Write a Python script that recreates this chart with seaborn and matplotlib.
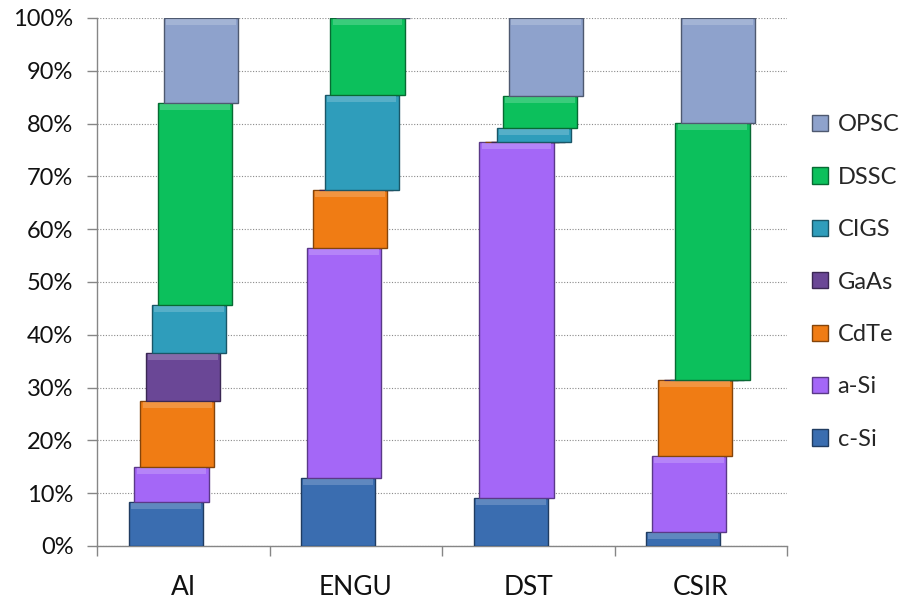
import matplotlib
matplotlib.use("Agg")
import matplotlib.pyplot as plt
import matplotlib.colors as mcolors
from matplotlib.patches import Patch
from matplotlib.ticker import FixedLocator, PercentFormatter
import seaborn as sns

# Share (%) of each technology within each organisation's portfolio
categories = ["AI", "ENGU", "DST", "CSIR"]
series = ["c-Si", "a-Si", "CdTe", "GaAs", "CIGS", "DSSC", "OPSC"]
c_si = [8.3, 12.9, 9.1, 2.7]
a_si = [6.7, 43.5, 67.4, 14.3]
cdte = [12.5, 11.0, 0.0, 14.4]
gaas = [9.0, 0.0, 0.0, 0.0]
cigs = [9.1, 18.0, 2.7, 0.0]
dssc = [38.3, 14.6, 6.0, 48.7]
opsc = [16.1, 0.0, 14.8, 19.9]
values = [c_si, a_si, cdte, gaas, cigs, dssc, opsc]
colors = ["#3a6db0", "#a467f7", "#f07c14", "#6a4796", "#2f9dbb", "#0cc05c", "#8ea2cc"]
y_ticks = list(range(0, 101, 10))


def darker(col, f=0.55):
    return tuple(c * f for c in mcolors.to_rgb(col))


def lighter(col, f=0.35):
    return tuple(min(1, c + (1 - c) * f) for c in mcolors.to_rgb(col))


sns.set_theme(style="white")
plt.rcParams["font.family"] = ["Lato", "DejaVu Sans"]

fig = plt.figure(figsize=(9.06, 6.0), dpi=100)
ax = fig.add_axes([97 / 906, 54 / 600, 690 / 906, 528 / 600])

bar_w = 0.43
step = 0.034  # sideways shift of each stacked layer (perspective look)
bottoms = [0.0] * len(categories)
for i, (name, vals, col) in enumerate(zip(series, values, colors)):
    xs = [k + (i - 3) * step for k in range(len(categories))]
    ax.bar(xs, vals, width=bar_w, bottom=bottoms, color=col,
           edgecolor=darker(col), linewidth=1.0, zorder=3)
    # bevel highlight along the top edge of each block
    hl = [min(v, 1.2) for v in vals]
    ax.bar(xs, hl, width=bar_w * 0.94,
           bottom=[b + v - h - 0.15 for b, v, h in zip(bottoms, vals, hl)],
           color=lighter(col), linewidth=0, alpha=0.55, zorder=4)
    bottoms = [b + v for b, v in zip(bottoms, vals)]

ax.set_xlim(-0.5, len(categories) - 0.5)
ax.set_ylim(0, 100)
ax.yaxis.set_major_locator(FixedLocator(y_ticks))
ax.yaxis.set_major_formatter(PercentFormatter(decimals=0))
ax.set_xticks(range(len(categories)))
ax.set_xticklabels(categories)
ax.xaxis.set_minor_locator(FixedLocator([k - 0.5 for k in range(len(categories) + 1)]))

ax.grid(axis="y", color="#8a8a8a", linestyle=(0, (1, 1.5)), linewidth=0.8, zorder=0)
ax.grid(axis="x", visible=False)
for s in ["top", "right"]:
    ax.spines[s].set_visible(False)
for s in ["left", "bottom"]:
    ax.spines[s].set_color("#868686")
    ax.spines[s].set_linewidth(1.0)

ax.tick_params(axis="y", which="major", length=7, width=1, color="#868686",
               direction="out", left=True, labelsize=17, labelcolor="#111111", pad=10)
ax.tick_params(axis="x", which="major", length=0, labelsize=19, labelcolor="#111111", pad=21)
ax.tick_params(axis="x", which="minor", length=7, width=1, color="#868686",
               direction="out", bottom=True)

handles = [Patch(facecolor=c, edgecolor=darker(c), label=n) for n, c in zip(series, colors)]
handles = handles[::-1]
fig.legend(handles=handles, loc="upper left", bbox_to_anchor=(0.886, 0.825),
           frameon=False, fontsize=17, handlelength=0.68, handleheight=0.68,
           handletextpad=0.4, labelspacing=1.33, borderaxespad=0)

fig.savefig("out.png", dpi=100, facecolor="white")
